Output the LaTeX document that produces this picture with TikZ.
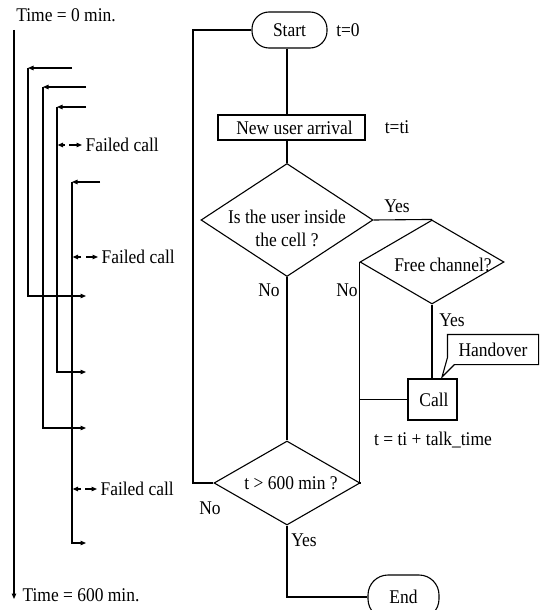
\documentclass[tikz,border=0pt]{standalone}
\usepackage{fontspec}
\setmainfont{Liberation Serif}[FakeStretch=0.9]
\usetikzlibrary{shapes.geometric,arrows.meta,calc}
\begin{document}
\begin{tikzpicture}[x=1pt,y=-1pt,line width=1.1pt,
  txt/.style={font=\fontsize{19.4}{23}\selectfont,inner sep=0pt},
  term/.style={draw,rounded corners=17pt,minimum width=75pt,minimum height=36pt,inner sep=0pt,txt},
  procbox/.style={draw,inner sep=0pt,txt},
  dia/.style={draw,diamond,inner sep=0pt},
  tipline/.style={-{Triangle[length=5.5pt,width=4.5pt]}}
]
\useasboundingbox (0,0) rectangle (541,610);

% ---------- flowchart ----------
\node[term] (start) at (289.5,30) {Start};
\node[txt] (t0) at (348,30) {t=0};
\node[procbox,minimum width=147pt,minimum height=25pt] (arr) at (291.5,127.5) {\hspace*{6pt}New user arrival};
\node[txt] (tti) at (397,127) {t=ti};
\node[dia,minimum width=172pt,minimum height=113pt] (d1) at (287,220) {};
\node[txt,align=center] (d1t) at (287,228) {Is the user inside\\the cell ?};
\node[dia,minimum width=144pt,minimum height=84pt] (d2) at (432,262) {};
\node[txt] (d2t) at (443,265) {Free channel?};
\node[dia,minimum width=146pt,minimum height=84pt] (d3) at (287,483) {};
\node[txt] (d3t) at (291,483) {t > 600 min ?};
\node[procbox,minimum width=49pt,minimum height=41pt] (call) at (432.5,399.5) {\hspace*{3pt}Call};
\node[txt] (tt) at (433,440) {t = ti + talk\_time};
\node[txt,minimum width=90pt,minimum height=29pt] (hand) at (493,349.5) {Handover};
\node[term,minimum width=71pt,minimum height=44pt,rounded corners=20pt] (end) at (403.5,597) {End};

\node[txt] (yes1) at (397,206) {Yes};
\node[txt] (no1) at (269,290) {No};
\node[txt] (no2) at (347,290) {No};
\node[txt] (yes2) at (452,320) {Yes};
\node[txt] (no3) at (210,508) {No};
\node[txt] (yes3) at (304,540) {Yes};

\coordinate (ltop) at (193,30);
\coordinate (htip) at (442,377);

\draw (start.west) -- (ltop) -- (ltop |- d3.west) -- (d3.west);
\draw (d1.north |- start.south) -- (d1.north |- arr.north);
\draw (d1.north |- arr.south) -- (d1.north);
\draw (d1.east) -- (d2.north);
\draw (d1.south) -- (d3.north);
\draw (d2.west) -- (d2.west |- d3.east) -- (d3.east);
\draw (d2.south) -- (call.north -| d2.south);
\draw (call.west) -- (call.west -| d2.west);
\draw (d3.south) |- (end.west);
\draw (hand.north west) -- (hand.north east) -- (hand.south east)
      -- ($(hand.south west)+(7,0)$) -- (htip) -- ($(hand.south west)+(0,-7)$) -- cycle;

% ---------- time line ----------
\node[txt] (tz) at (66,15) {Time = 0 min.};
\node[txt,anchor=west] (t600) at (22,595) {Time = 600 min.};
\coordinate (tl0) at (14,30);
\coordinate (tl1) at (14,599);
\draw[tipline] (tl0) -- (tl1);

% call A
\coordinate (a1) at (72,68); \coordinate (a2) at (28,68);
\coordinate (a3) at (28,296); \coordinate (a4) at (86,296);
\draw[tipline] (a1) -- (a2);
\draw[tipline] (a2) -- (a3) -- (a4);
% call B
\coordinate (b1) at (86,87); \coordinate (b2) at (43,87);
\coordinate (b3) at (43,428); \coordinate (b4) at (86,428);
\draw[tipline] (b1) -- (b2);
\draw[tipline] (b2) -- (b3) -- (b4);
% call C
\coordinate (c1) at (86,107); \coordinate (c2) at (57,107);
\coordinate (c3) at (57,372); \coordinate (c4) at (86,372);
\draw[tipline] (c1) -- (c2);
\draw[tipline] (c2) -- (c3) -- (c4);
% call D
\coordinate (e1) at (100,182); \coordinate (e2) at (72,182);
\coordinate (e3) at (72,543); \coordinate (e4) at (86,543);
\draw[tipline] (e1) -- (e2);
\draw[tipline] (e2) -- (e3) -- (e4);

% failed calls
\coordinate (f1a) at (65,145); \coordinate (f1b) at (57.6,145);
\coordinate (f1c) at (69,145); \coordinate (f1d) at (82,145);
\draw[tipline] (f1a) -- (f1b);
\draw[tipline] (f1c) -- (f1d);
\node[txt,anchor=west] (fc1) at (85,145) {Failed call};

\coordinate (f2a) at (81,257); \coordinate (f2b) at (72.6,257);
\coordinate (f2c) at (86,257); \coordinate (f2d) at (98,257);
\draw[tipline] (f2a) -- (f2b);
\draw[tipline] (f2c) -- (f2d);
\node[txt,anchor=west] (fc2) at (101,257) {Failed call};

\coordinate (f3a) at (81,489); \coordinate (f3b) at (72.6,489);
\coordinate (f3c) at (85,489); \coordinate (f3d) at (97,489);
\draw[tipline] (f3a) -- (f3b);
\draw[tipline] (f3c) -- (f3d);
\node[txt,anchor=west] (fc3) at (100,489) {Failed call};
\end{tikzpicture}
\end{document}
